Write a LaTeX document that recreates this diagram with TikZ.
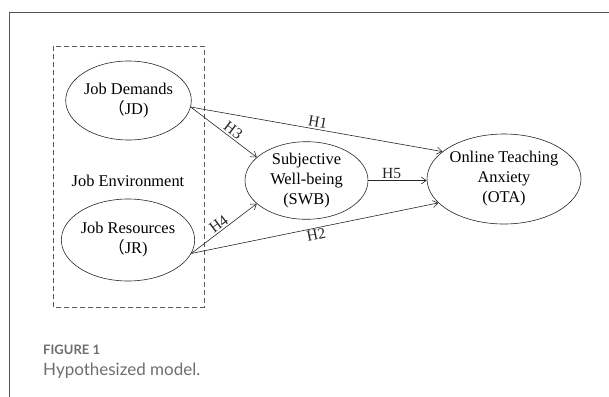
\documentclass[tikz,border=0pt]{standalone}
\usepackage{fontspec}
\setmainfont{Liberation Serif}
\newfontfamily\capfont{Lato}
\newfontfamily\cjk{Noto Sans CJK SC}
\usetikzlibrary{positioning, arrows.meta, shapes.geometric}
\definecolor{capgray}{HTML}{6E6E6E}
\definecolor{framegray}{HTML}{555555}

\begin{document}
\begin{tikzpicture}[
  x=1pt, y=-1pt,
  font=\fontsize{16.4}{20}\selectfont,
  construct/.style={ellipse, draw=black!85, line width=0.6pt, align=center, inner sep=0pt},
  hyp/.style={-{Straight Barb[length=5pt,width=7pt]}, line width=0.6pt, black!85},
  hlab/.style={sloped, inner sep=1.5pt, font=\fontsize{15.5}{18}\selectfont},
  envbox/.style={draw=black!65, dash pattern=on 5pt off 3pt, line width=0.8pt},
  caphead/.style={anchor=west, inner sep=0pt, text=capgray, font=\capfont\bfseries\fontsize{13}{15}\selectfont},
  captext/.style={anchor=west, inner sep=0pt, text=capgray, font=\capfont\fontsize{17}{20}\selectfont},
]
\useasboundingbox (0,0) rectangle (609,396);

% outer frame (cut by the page on the right and below)
\draw[framegray, line width=1pt] (612,13) -| (9,399);

% job environment group
\draw[envbox] (53,46) rectangle (204,307);
\node (env) at (128,181) {Job Environment};
\node[construct, minimum width=125pt, minimum height=79pt] (jd) at (128.5,100.5) {Job Demands\\{\cjk （}JD)};
\node[construct, minimum width=124pt, minimum height=82pt] (jr) at (128,240) {Job Resources\\{\cjk （}JR)};

% mediator and outcome
\node[construct, minimum width=123pt, minimum height=77pt] (swb) at (306.5,180.5) {Subjective\\Well-being\\(SWB)};
\node[construct, minimum width=154pt, minimum height=90pt] (ota) at (504,179) {Online Teaching\\Anxiety\\(OTA)};

% hypothesised paths
\draw[hyp] (jd.-6) -- node[hlab,above,pos=0.5]{H1} (ota.156);
\draw[hyp] (jd.-6) -- node[hlab,above,pos=0.58]{H3} (swb.155);
\draw[hyp] (jr.-12) -- node[hlab,above,pos=0.48]{H4} (swb.205);
\draw[hyp] (jr.-12) -- node[hlab,below,pos=0.5]{H2} (ota.200);
\draw[hyp] (swb.east) -- node[hlab,above,pos=0.4]{H5} (swb.east -| ota.west);

% caption
\node[caphead] (fig) at (43,350) {FIGURE 1};
\node[captext, below=8pt of fig.south west, anchor=north west] (cap) {Hypothesized model.};
\end{tikzpicture}
\end{document}
